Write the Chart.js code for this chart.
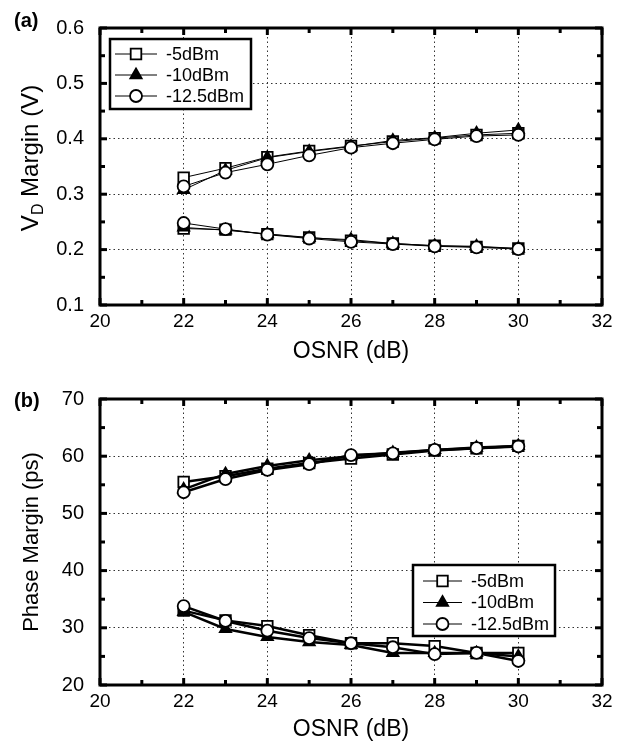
<!DOCTYPE html>
<html>
<head>
<meta charset="utf-8">
<script src="https://cdn.jsdelivr.net/npm/chart.js@4"></script>
<style>
  html, body { margin: 0; padding: 0; background: #fff; }
  canvas { display: block; }
</style>
</head>
<body>
<canvas id="chartA" width="627" height="371"></canvas>
<canvas id="chartB" width="627" height="372"></canvas>
<script>
// ---- data ----
const osnr = [22, 23, 24, 25, 26, 27, 28, 29, 30];
const powerLabels = ['-5dBm', '-10dBm', '-12.5dBm'];

// (a) V_D margin, volts
const vdUpper5   = [0.330, 0.347, 0.367, 0.378, 0.387, 0.395, 0.401, 0.407, 0.410];
const vdUpper10  = [0.308, 0.343, 0.366, 0.377, 0.386, 0.397, 0.402, 0.410, 0.416];
const vdUpper125 = [0.314, 0.339, 0.354, 0.370, 0.384, 0.392, 0.399, 0.405, 0.407];
const vdLower5   = [0.238, 0.236, 0.228, 0.222, 0.216, 0.211, 0.207, 0.205, 0.202];
const vdLower10  = [0.240, 0.235, 0.228, 0.221, 0.218, 0.211, 0.207, 0.206, 0.202];
const vdLower125 = [0.248, 0.237, 0.227, 0.220, 0.214, 0.210, 0.206, 0.204, 0.201];

// (b) phase margin, ps
const phUpper5   = [55.5, 56.5, 57.8, 58.8, 59.6, 60.3, 61.0, 61.4, 61.8];
const phUpper10  = [54.2, 56.9, 58.3, 59.3, 60.0, 60.6, 61.1, 61.5, 61.8];
const phUpper125 = [53.7, 56.0, 57.6, 58.6, 60.2, 60.5, 61.1, 61.4, 61.7];
const phLower5   = [33.0, 31.3, 30.3, 28.7, 27.3, 27.3, 26.8, 25.6, 25.6];
const phLower10  = [32.8, 29.8, 28.4, 27.5, 27.0, 25.6, 25.6, 25.6, 25.0];
const phLower125 = [33.8, 31.2, 29.5, 28.2, 27.3, 26.6, 25.4, 25.6, 24.2];

const FONT = "'Liberation Sans', Arial, Helvetica, sans-serif";

// marker look per power level
const markers = [
  { pointStyle: 'rect',     pointRadius: 7.5, fill: '#fff', order: 2 },
  { pointStyle: 'triangle', pointRadius: 6.5, fill: '#000', order: 1 },
  { pointStyle: 'circle',   pointRadius: 6,   fill: '#fff', order: 0 },
];

function makeSet(values, idx, lineW) {
  const m = markers[idx];
  return {
    label: powerLabels[idx],
    data: values.map((v, i) => ({ x: osnr[i], y: v })),
    borderColor: '#000',
    borderWidth: lineW,
    pointStyle: m.pointStyle,
    pointRadius: m.pointRadius,
    pointBackgroundColor: m.fill,
    pointBorderColor: '#000',
    pointBorderWidth: 1.8,
    order: m.order,
    tension: 0,
  };
}

function line(ctx, x1, y1, x2, y2) {
  ctx.beginPath(); ctx.moveTo(x1, y1); ctx.lineTo(x2, y2); ctx.stroke();
}

// frame, inward ticks, panel tag, y title (with subscript) and boxed legend
const paperPlugin = {
  id: 'paper',
  afterDraw(chart, args, opts) {
    const { ctx, chartArea: a, scales: { x, y } } = chart;
    ctx.save();
    ctx.strokeStyle = '#000';
    ctx.lineWidth = 3;
    ctx.setLineDash([]);

    const isMajor = (v, step) => Math.abs(v / step - Math.round(v / step)) < 1e-6;
    for (let v = x.min; v <= x.max + 1e-9; v += opts.xMinor) {
      const px = x.getPixelForValue(v);
      const len = isMajor(v, opts.xMajor) ? 7 : 5;
      line(ctx, px, a.bottom, px, a.bottom - len);
      line(ctx, px, a.top, px, a.top + len);
    }
    for (let v = y.min; v <= y.max + 1e-9; v += opts.yMinor) {
      const py = y.getPixelForValue(v);
      const len = isMajor(v, opts.yMajor) ? 7 : 5;
      line(ctx, a.left, py, a.left + len, py);
      line(ctx, a.right, py, a.right - len, py);
    }
    ctx.strokeRect(a.left, a.top, a.right - a.left, a.bottom - a.top);

    // panel tag
    ctx.fillStyle = '#000';
    ctx.font = `bold 20px ${FONT}`;
    ctx.textBaseline = 'middle';
    ctx.textAlign = 'left';
    ctx.fillText(opts.tag, 14, opts.tagY);

    // rotated y title, parts = [text, size, dropDown]
    ctx.save();
    ctx.translate(opts.titleX, opts.titleY);
    ctx.rotate(-Math.PI / 2);
    ctx.textBaseline = 'alphabetic';
    let total = 0;
    opts.yTitle.forEach(([t, s]) => { ctx.font = `${s}px ${FONT}`; total += ctx.measureText(t).width; });
    let cx = -total / 2;
    opts.yTitle.forEach(([t, s, d]) => {
      ctx.font = `${s}px ${FONT}`;
      ctx.fillText(t, cx, 8 + d);
      cx += ctx.measureText(t).width;
    });
    ctx.restore();

    // legend box
    const L = opts.legend;
    const bx = a.left + L.dx, by = a.top + L.dy;
    ctx.fillStyle = '#fff';
    ctx.fillRect(bx, by, L.w, L.h);
    ctx.lineWidth = 2.5;
    ctx.strokeRect(bx, by, L.w, L.h);
    const sets = chart.data.datasets.slice(0, 3);
    sets.forEach((ds, i) => {
      const ry = by + L.row0 + i * L.rowGap;
      ctx.lineWidth = 1;
      ctx.strokeStyle = '#000';
      line(ctx, bx + L.lineX0, ry, bx + L.lineX1, ry);
      const mx = (bx + L.lineX0 + bx + L.lineX1) / 2;
      ctx.fillStyle = ds.pointBackgroundColor;
      ctx.lineWidth = 1.8;
      Chart.helpers.drawPoint(ctx, { pointStyle: ds.pointStyle, radius: ds.pointRadius, rotation: 0, borderWidth: 1.8 }, mx, ry);
      ctx.fillStyle = '#000';
      ctx.font = `18px ${FONT}`;
      ctx.textBaseline = 'middle';
      ctx.textAlign = 'left';
      ctx.fillText(ds.label, bx + L.textX, ry + 1);
    });
    ctx.restore();
  }
};

function makeChart(id, cfg) {
  return new Chart(document.getElementById(id), {
    type: 'line',
    data: { datasets: cfg.datasets },
    options: {
      responsive: false,
      animation: false,
      events: [],
      layout: { padding: { left: 0, right: 25, top: cfg.padTop, bottom: 0 } },
      scales: {
        x: {
          type: 'linear', min: 20, max: 32,
          afterFit: s => { s.height = cfg.xHeight; },
          ticks: { stepSize: 2, color: '#000', padding: 5, font: { family: FONT, size: 19 } },
          grid: { color: '#333', lineWidth: 1, drawTicks: false },
          border: { display: false, dash: [1.5, 3] },
          title: { display: true, text: 'OSNR (dB)', color: '#000',
                   font: { family: FONT, size: 23 }, padding: { top: 0, bottom: cfg.titlePad } },
        },
        y: {
          type: 'linear', min: cfg.yMin, max: cfg.yMax,
          afterFit: s => { s.width = 100; },
          ticks: { stepSize: cfg.yStep, color: '#000', padding: 16,
                   font: { family: FONT, size: 20 }, callback: cfg.yFmt },
          grid: { color: '#333', lineWidth: 1, drawTicks: false },
          border: { display: false, dash: [1.5, 3] },
        },
      },
      plugins: {
        legend: { display: false },
        tooltip: { enabled: false },
        paper: cfg.paper,
      },
    },
    plugins: [paperPlugin],
  });
}

makeChart('chartA', {
  padTop: 18, xHeight: 66, titlePad: 6,
  yMin: 0.1, yMax: 0.6, yStep: 0.1, yFmt: v => v.toFixed(1),
  datasets: [
    makeSet(vdUpper5, 0, 1), makeSet(vdUpper10, 1, 1), makeSet(vdUpper125, 2, 1),
    makeSet(vdLower5, 0, 1), makeSet(vdLower10, 1, 1), makeSet(vdLower125, 2, 1),
  ],
  paper: {
    tag: '(a)', tagY: 21, titleX: 30, titleY: 158,
    xMinor: 1, xMajor: 2, yMinor: 0.05, yMajor: 0.1,
    yTitle: [['V', 24, 0], ['D', 16, 5], [' Margin (V)', 24, 0]],
    legend: { dx: 10, dy: 11, w: 141, h: 70, row0: 15, rowGap: 21, lineX0: 5, lineX1: 47, textX: 56 },
  },
});

makeChart('chartB', {
  padTop: 28, xHeight: 58, titlePad: 0,
  yMin: 20, yMax: 70, yStep: 10, yFmt: v => String(Math.round(v)),
  datasets: [
    makeSet(phUpper5, 0, 2.5), makeSet(phUpper10, 1, 2.5), makeSet(phUpper125, 2, 2.5),
    makeSet(phLower5, 0, 2.5), makeSet(phLower10, 1, 2.5), makeSet(phLower125, 2, 2.5),
  ],
  paper: {
    tag: '(b)', tagY: 30, titleX: 30, titleY: 171,
    xMinor: 1, xMajor: 2, yMinor: 5, yMajor: 10,
    yTitle: [['Phase Margin (ps)', 22, 0]],
    legend: { dx: 313, dy: 166, w: 142, h: 71, row0: 16, rowGap: 21.5, lineX0: 10, lineX1: 49, textX: 58 },
  },
});
</script>
</body>
</html>
